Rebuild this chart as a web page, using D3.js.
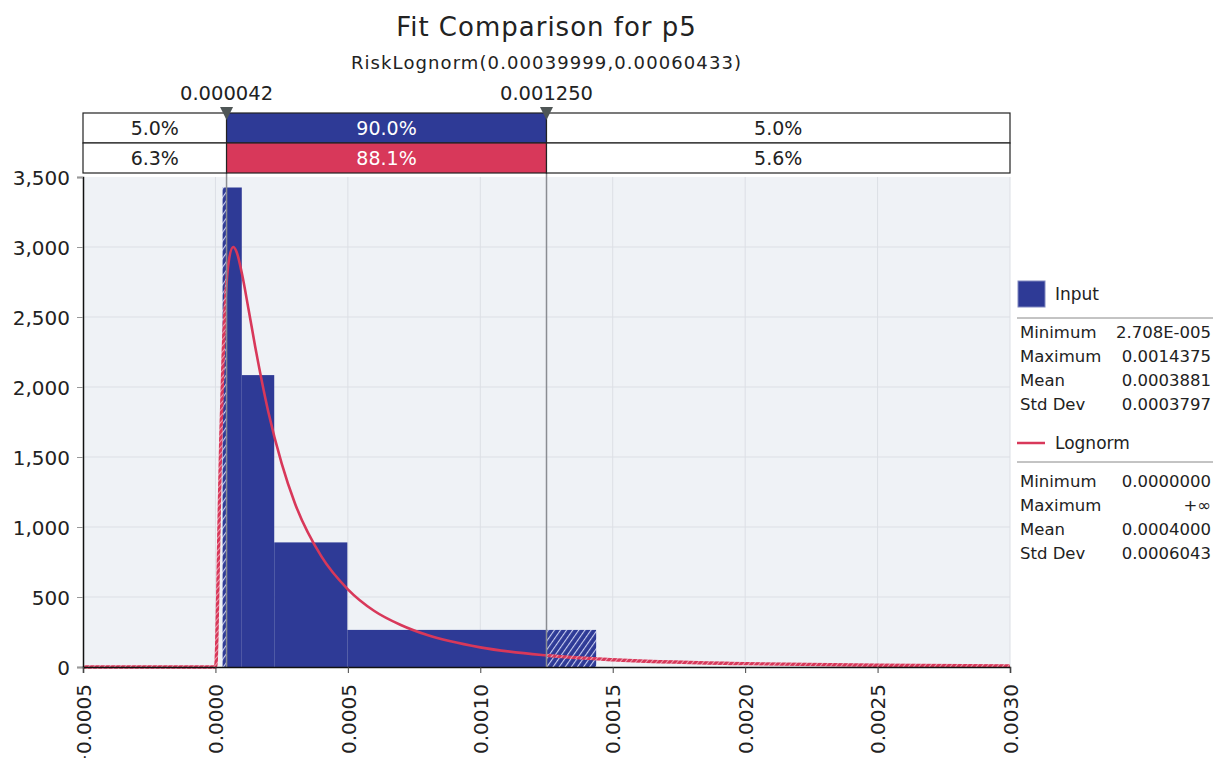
<!DOCTYPE html>
<html>
<head>
<meta charset="utf-8">
<script src="https://cdn.jsdelivr.net/npm/d3@7"></script>
<style>
  body { margin: 0; background: #fff; }
  text { font-family: "DejaVu Sans", Verdana, sans-serif; }
</style>
</head>
<body>
<div id="chart"></div>
<script>
// histogram of the input (variable width bins)
var binEdges = [0.00002708, 0.0000995, 0.000222, 0.000498, 0.0014375];
var binHeights = [3425, 2085, 890, 265];

// fitted Lognorm curve
var curveX = [-0.0005, 0, 0.0000025, 0.000005, 0.00001, 0.000015, 0.00002, 0.00003, 0.00004, 0.00005, 0.000067, 0.00008, 0.0001,
    0.000125, 0.00015, 0.0002, 0.00025, 0.0003, 0.0004, 0.0005, 0.0006, 0.0007, 0.0008, 0.001, 0.00125, 0.0015, 0.002, 0.0025, 0.003];
var curveY = [0, 0, 30, 175, 650, 1165, 1615, 2280, 2680, 2895, 3000, 2965, 2810,
    2555, 2290, 1820, 1455, 1170, 790, 555, 400, 300, 228, 140, 83, 52, 24, 12, 7];

var delimiters = [0.000042, 0.00125];
var delimiterLabels = ["0.000042", "0.001250"];
var inputPct = ["5.0%", "90.0%", "5.0%"];
var fitPct = ["6.3%", "88.1%", "5.6%"];

var xTicks = [-0.0005, 0, 0.0005, 0.001, 0.0015, 0.002, 0.0025, 0.003];
var yTicks = [0, 500, 1000, 1500, 2000, 2500, 3000, 3500];

var inputStats = [["Minimum", "2.708E-005"], ["Maximum", "0.0014375"], ["Mean", "0.0003881"], ["Std Dev", "0.0003797"]];
var fitStats = [["Minimum", "0.0000000"], ["Maximum", "+\u221e"], ["Mean", "0.0004000"], ["Std Dev", "0.0006043"]];

(() => {
    var width = 1213;
    var height = 758;
    var left = 83, right = 1010, top = 177, bottom = 667;
    var blue = "#2e3a96";
    var red = "#d8385a";

    var svg = d3.select("#chart")
        .append("svg")
        .attr("width", width)
        .attr("height", height);

    var xScale = d3.scaleLinear().domain([-0.0005, 0.003]).range([left, right]);
    var yScale = d3.scaleLinear().domain([0, 3500]).range([bottom, top]);

    var defs = svg.append("defs");
    var bh = defs.append("pattern").attr("id", "blueHatch")
        .attr("patternUnits", "userSpaceOnUse").attr("width", 5).attr("height", 5)
        .attr("patternTransform", "rotate(35)");
    bh.append("rect").attr("width", 5).attr("height", 5).attr("fill", blue);
    bh.append("line").attr("x1", 0).attr("y1", 0).attr("x2", 0).attr("y2", 5)
        .attr("stroke", "#c9cdf0").attr("stroke-width", 2.2);
    var rh = defs.append("pattern").attr("id", "redHatch")
        .attr("patternUnits", "userSpaceOnUse").attr("width", 4).attr("height", 4)
        .attr("patternTransform", "rotate(40)");
    rh.append("rect").attr("width", 4).attr("height", 4).attr("fill", red);
    rh.append("line").attr("x1", 0).attr("y1", 0).attr("x2", 0).attr("y2", 4)
        .attr("stroke", "#f6c9d3").attr("stroke-width", 1.4);

    var dx0 = xScale(delimiters[0]), dx1 = xScale(delimiters[1]);
    defs.append("clipPath").attr("id", "clipIn").append("rect")
        .attr("x", dx0).attr("y", top - 20).attr("width", dx1 - dx0).attr("height", bottom - top + 22);
    var clipOut = defs.append("clipPath").attr("id", "clipOut");
    clipOut.append("rect").attr("x", left).attr("y", top - 20).attr("width", dx0 - left).attr("height", bottom - top + 22);
    clipOut.append("rect").attr("x", dx1).attr("y", top - 20).attr("width", right - dx1).attr("height", bottom - top + 22);

    // title
    svg.append("text").attr("x", (left + right) / 2).attr("y", 36)
        .attr("text-anchor", "middle").attr("font-size", "26px").attr("letter-spacing", "1px").attr("fill", "#222")
        .text("Fit Comparison for p5");
    svg.append("text").attr("x", (left + right) / 2).attr("y", 69)
        .attr("text-anchor", "middle").attr("font-size", "18px").attr("letter-spacing", "1.1px").attr("fill", "#222")
        .text("RiskLognorm(0.00039999,0.00060433)");

    // plot background + grid
    svg.append("rect").attr("x", left).attr("y", top).attr("width", right - left).attr("height", bottom - top)
        .attr("fill", "#eff2f6");
    svg.selectAll(".vgrid").data(xTicks.slice(1, -1)).join("line")
        .attr("x1", d => xScale(d)).attr("x2", d => xScale(d))
        .attr("y1", top).attr("y2", bottom)
        .attr("stroke", "#dcdfe5").attr("stroke-width", 1);
    svg.selectAll(".hgrid").data(yTicks.slice(1, -1)).join("line")
        .attr("x1", left).attr("x2", right)
        .attr("y1", d => yScale(d)).attr("y2", d => yScale(d))
        .attr("stroke", "#dcdfe5").attr("stroke-width", 1);
    svg.append("line").attr("x1", right).attr("x2", right).attr("y1", top).attr("y2", bottom)
        .attr("stroke", "#dcdfe5");

    // histogram
    var bins = binHeights.map((h, i) => ({ x0: binEdges[i], x1: binEdges[i + 1], h: h }));
    var drawBars = function (g, fill) {
        g.selectAll("rect").data(bins).join("rect")
            .attr("x", d => xScale(d.x0))
            .attr("y", d => yScale(d.h))
            .attr("width", d => xScale(d.x1) - xScale(d.x0))
            .attr("height", d => yScale(0) - yScale(d.h))
            .attr("fill", fill);
    };
    drawBars(svg.append("g").attr("clip-path", "url(#clipIn)"), blue);
    drawBars(svg.append("g").attr("clip-path", "url(#clipOut)"), "url(#blueHatch)");

    // curve
    var pts = curveX.map((x, i) => [x, curveY[i]]);
    var line = d3.line().x(d => xScale(d[0])).y(d => yScale(d[1])).curve(d3.curveMonotoneX);
    svg.append("path").datum(pts).attr("d", line).attr("clip-path", "url(#clipOut)")
        .attr("fill", "none").attr("stroke", "url(#redHatch)").attr("stroke-width", 3.4);
    svg.append("path").datum(pts).attr("d", line).attr("clip-path", "url(#clipIn)")
        .attr("fill", "none").attr("stroke", red).attr("stroke-width", 2.6);

    // delimiter lines
    svg.selectAll(".delim").data(delimiters).join("line")
        .attr("x1", d => xScale(d)).attr("x2", d => xScale(d))
        .attr("y1", 113).attr("y2", bottom)
        .attr("stroke", "#8a8d92").attr("stroke-width", 1.5);

    // axes
    var yAxis = d3.axisLeft(yScale).tickValues(yTicks).tickSize(6).tickFormat(d3.format(","));
    var gy = svg.append("g").attr("transform", "translate(" + left + ",0)").call(yAxis);
    gy.select(".domain").attr("stroke", "#111").attr("stroke-width", 1.5);
    gy.selectAll(".tick line").attr("stroke", "#999");
    gy.selectAll(".tick text").attr("font-size", "20px").attr("fill", "#222")
        .attr("font-family", "DejaVu Sans").attr("x", -13).attr("dy", "0.36em");

    var xAxis = d3.axisBottom(xScale).tickValues(xTicks).tickSize(6).tickFormat(d3.format(".4f"));
    var gx = svg.append("g").attr("transform", "translate(0," + bottom + ")").call(xAxis);
    gx.select(".domain").attr("stroke", "#111").attr("stroke-width", 1.5);
    gx.selectAll(".tick line").attr("stroke", "#444");
    gx.selectAll(".tick text").attr("font-size", "20px").attr("fill", "#222")
        .attr("font-family", "DejaVu Sans")
        .attr("transform", "rotate(-90)").attr("text-anchor", "end")
        .attr("x", -17).attr("y", 0).attr("dy", "0.36em");

    // delimiter box
    var bands = [[-0.0005, delimiters[0]], [delimiters[0], delimiters[1]], [delimiters[1], 0.003]];
    var rows = [{ y: 113, pct: inputPct, fill: blue }, { y: 143, pct: fitPct, fill: red }];
    rows.forEach(function (r) {
        var g = svg.append("g");
        g.selectAll("rect").data(bands).join("rect")
            .attr("x", d => xScale(d[0])).attr("y", r.y)
            .attr("width", d => xScale(d[1]) - xScale(d[0])).attr("height", 30)
            .attr("fill", (d, i) => i === 1 ? r.fill : "#fff")
            .attr("stroke", "#222").attr("stroke-width", 1.2);
        g.selectAll("text").data(bands).join("text")
            .attr("x", d => (xScale(d[0]) + xScale(d[1])) / 2).attr("y", r.y + 22)
            .attr("text-anchor", "middle").attr("font-size", "19px")
            .attr("fill", (d, i) => i === 1 ? "#fff" : "#222")
            .text((d, i) => r.pct[i]);
    });

    // delimiter markers
    svg.selectAll(".marker").data(delimiters).join("path")
        .attr("d", d => "M" + (xScale(d) - 6.5) + ",107 L" + (xScale(d) + 6.5) + ",107 L" + xScale(d) + ",120 Z")
        .attr("fill", "#4f5656");
    svg.selectAll(".mlabel").data(delimiters).join("text")
        .attr("x", d => xScale(d)).attr("y", 100)
        .attr("text-anchor", "middle").attr("font-size", "19.5px").attr("fill", "#222")
        .text((d, i) => delimiterLabels[i]);

    // legend
    var lx = 1017, rx = 1211;
    svg.append("rect").attr("x", lx + 1).attr("y", 281).attr("width", 27).attr("height", 26)
        .attr("fill", blue).attr("stroke", "#8088c0");
    svg.append("text").attr("x", 1055).attr("y", 300).attr("font-size", "17px").attr("fill", "#222").text("Input");
    svg.append("line").attr("x1", lx).attr("x2", width).attr("y1", 318).attr("y2", 318).attr("stroke", "#888");
    svg.append("line").attr("x1", lx).attr("x2", lx + 28).attr("y1", 443).attr("y2", 443)
        .attr("stroke", red).attr("stroke-width", 2.5);
    svg.append("text").attr("x", 1055).attr("y", 449).attr("font-size", "17px").attr("fill", "#222").text("Lognorm");
    svg.append("line").attr("x1", lx).attr("x2", width).attr("y1", 462).attr("y2", 462).attr("stroke", "#888");

    var drawStats = function (stats, y0) {
        var g = svg.append("g");
        g.selectAll(".sl").data(stats).join("text")
            .attr("x", lx + 3).attr("y", (d, i) => y0 + i * 24)
            .attr("font-size", "16.5px").attr("fill", "#222").text(d => d[0]);
        g.selectAll(".sv").data(stats).join("text")
            .attr("x", rx).attr("y", (d, i) => y0 + i * 24)
            .attr("text-anchor", "end").attr("font-size", "16.5px").attr("fill", "#222").text(d => d[1]);
    };
    drawStats(inputStats, 338);
    drawStats(fitStats, 487);
})();
</script>
</body>
</html>
